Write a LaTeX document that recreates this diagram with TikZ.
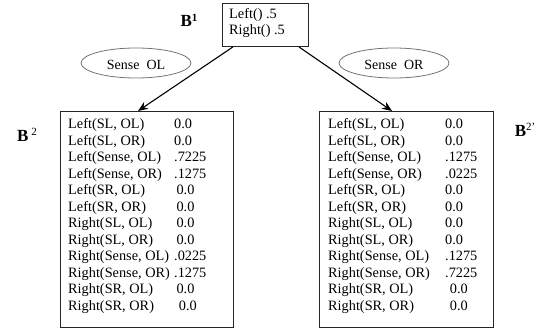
\documentclass[tikz,border=0pt]{standalone}
\usepackage{fontspec}
\setmainfont{Liberation Serif}
\usetikzlibrary{arrows.meta,shapes.geometric}
\begin{document}
\begin{tikzpicture}[x=1pt,y=-1pt,
  txt/.style={font=\fontsize{14.3}{16.5}\selectfont,inner sep=0pt,anchor=north west,align=left},
  boxn/.style={draw=black!85,line width=0.9pt,rectangle,inner sep=0pt},
  ell/.style={draw=black!55,line width=0.8pt,ellipse,minimum width=110pt,minimum height=30pt,inner sep=0pt},
  etxt/.style={font=\fontsize{14}{16}\selectfont,inner sep=0pt},
  conn/.style={line width=1.1pt,-{Stealth[length=10pt,width=8pt]}},
  blab/.style={font=\fontsize{17}{17}\selectfont\bfseries,inner sep=0pt}
]
\useasboundingbox (0,0) rectangle (557,331);
% top box
\node[boxn,minimum width=86pt,minimum height=43pt,anchor=north west] (top) at (222,3) {};
\node[txt] (toptxt) at (229,8) {Left() .5\\Right() .5};
\node[blab] (b1) at (189,20) {B\raisebox{5pt}{\fontsize{11}{11}\selectfont 1}};
% ellipses
\node[ell] (eL) at (136,63) {};
\node[etxt] (eLt) at (136,65) {Sense\ \ OL};
\node[ell] (eR) at (394,63) {};
\node[etxt] (eRt) at (394,65) {Sense\ \ OR};
% left box
\node[boxn,minimum width=173pt,minimum height=216pt,anchor=north west] (L) at (60,111) {};
\node[txt] (Ltxt) at (68,117) {%
\begin{tabular}{@{}p{106pt}@{}l@{}}
Left(SL, OL) & 0.0\\
Left(SL, OR) & 0.0\\
Left(Sense, OL) & .7225\\
Left(Sense, OR) & .1275\\
Left(SR, OL) & \,0.0\\
Left(SR, OR) & \,0.0\\
Right(SL, OL) & \,0.0\\
Right(SL, OR) & \,0.0\\
Right(Sense, OL) & .0225\\
Right(Sense, OR) & .1275\\
Right(SR, OL) & \,0.0\\
Right(SR, OR) & \,\,0.0
\end{tabular}};
\node[blab] (b2) at (27,135) {B\,\raisebox{6pt}{\fontsize{11}{11}\selectfont\mdseries 2}};
% right box
\node[boxn,minimum width=174pt,minimum height=216pt,anchor=north west] (R) at (319,111) {};
\node[txt] (Rtxt) at (328,117) {%
\begin{tabular}{@{}p{117pt}@{}l@{}}
Left(SL, OL) & 0.0\\
Left(SL, OR) & 0.0\\
Left(Sense, OL) & .1275\\
Left(Sense, OR) & .0225\\
Left(SR, OL) & 0.0\\
Left(SR, OR) & 0.0\\
Right(SL, OL) & 0.0\\
Right(SL, OR) & 0.0\\
Right(Sense, OL) & .1275\\
Right(Sense, OR) & .7225\\
Right(SR, OL) & \,\,0.0\\
Right(SR, OR) & \,\,0.0
\end{tabular}};
\node[blab] (b2p) at (525,130) {B\raisebox{6pt}{\fontsize{11}{11}\selectfont\mdseries 2'}};
% connectors
\draw[conn] ([xshift=11pt]top.south west) -- ([xshift=78pt]L.north west);
\draw[conn] ([xshift=-10pt]top.south east) -- ([xshift=73pt]R.north west);
\end{tikzpicture}
\end{document}
